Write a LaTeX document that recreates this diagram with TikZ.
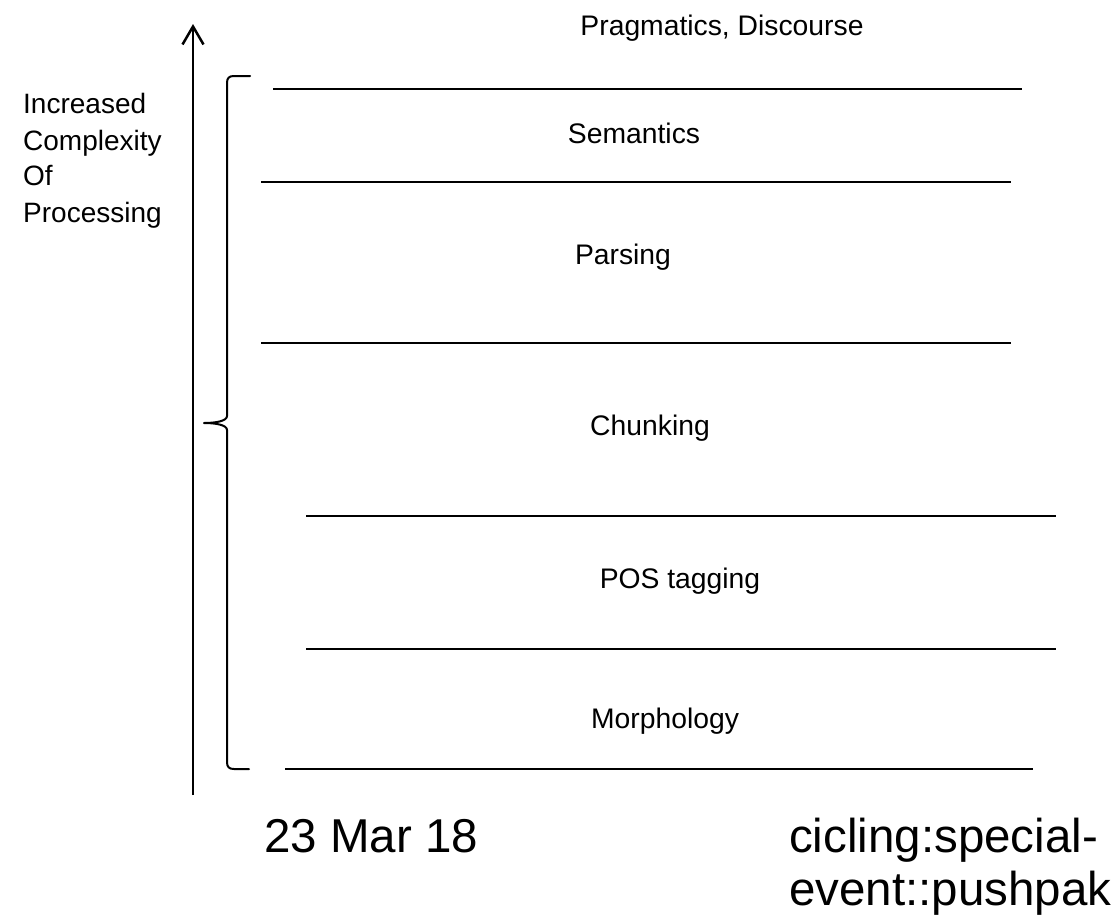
\documentclass[tikz,border=0pt]{standalone}
\usepackage{fontspec}
\setmainfont{Liberation Sans}
\usetikzlibrary{arrows.meta}
\begin{document}
\begin{tikzpicture}[x=1pt,y=-1pt,
  layer/.style={font=\fontsize{28.3}{30}\selectfont, anchor=base, inner sep=0pt},
  sidelabel/.style={font=\fontsize{28}{30}\selectfont, anchor=base west, inner sep=0pt},
  big/.style={font=\fontsize{47.5}{52}\selectfont, anchor=base west, inner sep=0pt},
  rule/.style={line width=2pt},
  bracestyle/.style={line width=2pt, line cap=round, line join=round},
  axis/.style={line width=2.5pt, -{Straight Barb[length=18pt, width=21pt, line width=2.5pt]}}]
\useasboundingbox (0,0) rectangle (1116,916);
\fill[white] (0,0) rectangle (1116,916);

% axis arrow
\coordinate (abot) at (193,795);
\coordinate (atop) at (193,24);
\draw[axis] (abot) -- (atop);

% brace
\draw[bracestyle] (250,76) -- (234,76) .. controls (229,76) and (227,78) .. (227,83)
  -- (227,416) .. controls (227,421) and (216,423) .. (204,423)
  .. controls (216,423) and (227,425) .. (227,430)
  -- (227,762) .. controls (227,767) and (229,769) .. (234,769) -- (249,769);

% layer rules
\draw[rule] (273,89) -- (1022,89);
\draw[rule] (261,182) -- (1011,182);
\draw[rule] (261,343) -- (1011,343);
\draw[rule] (306,516) -- (1056,516);
\draw[rule] (306,649) -- (1056,649);
\draw[rule] (285,769) -- (1033,769);

% layer labels
\node[layer] (prag) at (722,35) {Pragmatics, Discourse};
\node[layer] (sem) at (634,143) {Semantics};
\node[layer] (pars) at (623,264) {Parsing};
\node[layer] (chunk) at (650,435) {Chunking};
\node[layer] (pos) at (680,588) {POS tagging};
\node[layer] (morph) at (665,728) {Morphology};

% side label
\node[sidelabel] (l1) at (23,113) {Increased};
\node[sidelabel] (l2) at (23,150) {Complexity};
\node[sidelabel] (l3) at (23,185) {Of};
\node[sidelabel] (l4) at (23,222) {Processing};

% footer
\node[big] (date) at (264,852) {23 Mar 18};
\node[big] (src1) at (789,852) {cicling:special-};
\node[big] (src2) at (789,905) {event::pushpak};
\end{tikzpicture}
\end{document}
